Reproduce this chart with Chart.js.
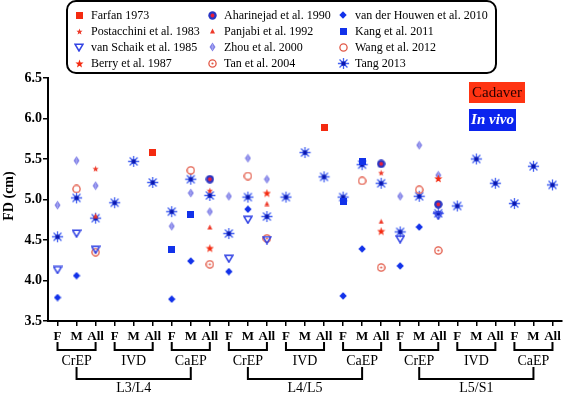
<!DOCTYPE html>
<html><head><meta charset="utf-8">
<script src="https://cdn.jsdelivr.net/npm/chart.js@4"></script>
<style>html,body{margin:0;padding:0;background:#fff;}#wrap{width:567px;height:395px;position:relative;}</style>
</head><body><div id="wrap"><canvas id="c" width="567" height="395"></canvas></div>
<script>
const _ = null;
// ---- categories / tick labels ----
const sexLabels = ['F', 'M', 'All'];
const regionLabels = ['CrEP', 'IVD', 'CaEP'];
const levelLabels = ['L3/L4', 'L4/L5', 'L5/S1'];
const categories = [];
levelLabels.forEach(() => regionLabels.forEach(() => sexLabels.forEach(s => categories.push(s))));
const yTicks = [3.5, 4.0, 4.5, 5.0, 5.5, 6.0, 6.5];

// ---- series values (FD, cm), one entry per category, null = no data ----
//                 |------------- L3/L4 -------------|  |------------- L4/L5 -------------|  |------------- L5/S1 -------------|
const farfan      = [_,_,_,    _,_,5.58, _,_,_,          _,_,_,    _,_,5.89, _,_,_,          _,_,_,    _,_,_,    _,_,_];
const postacchini = [_,_,5.38, _,_,_,    _,_,5.11,       _,_,_,    _,_,_,    _,_,5.33,       _,_,_,    _,_,_,    _,_,_];
const vanSchaik   = [4.13,4.58,4.38, _,_,_, _,_,_,        4.27,4.75,4.50, _,_,_, _,_,_,       4.51,_,4.80, _,_,_, _,_,_];
const berry       = [_,_,_,    _,_,_,    _,_,4.40,       _,_,5.08, _,_,_,    _,_,4.61,       _,_,5.26, _,_,_,    _,_,_];
const aharinejad  = [_,_,_,    _,_,_,    _,_,5.25,       _,_,_,    _,_,_,    _,_,5.44,       _,_,4.94, _,_,_,    _,_,_];
const panjabi     = [_,_,4.80, _,_,_,    _,_,4.66,       _,_,4.95, _,_,_,    _,_,4.73,       _,_,4.95, _,_,_,    _,_,_];
const zhou        = [4.93,5.48,5.17, _,_,_, 4.67,5.08,4.85, 5.04,5.51,5.25, _,_,_, _,_,_,   5.04,5.67,5.30, _,_,_, _,_,_];
const tan         = [_,_,4.35, _,_,_,    _,_,4.20,       _,_,4.52, _,_,_,    _,_,4.16,       _,_,4.37, _,_,_,    _,_,_];
const vanDerHouwen= [3.79,4.06,_, _,_,_, 3.77,4.24,_,     4.11,4.88,_, _,_,_, 3.81,4.39,_,   4.18,4.66,_, _,_,_, _,_,_];
const kang        = [_,_,_,    _,_,_,    4.38,4.81,_,    _,_,_,    _,_,_,    4.98,5.47,_,    _,_,_,    _,_,_,    _,_,_];
const wang        = [_,5.13,_, _,_,_,    _,5.36,_,       _,5.29,_, _,_,_,    _,5.23,_,       _,5.12,_, _,_,_,    _,_,_];
const tang        = [4.54,5.02,4.77, 4.96,5.47,5.21, 4.85,5.25,5.05,
                     4.58,5.03,4.79, 5.03,5.58,5.28, 5.03,5.43,5.20,
                     4.60,5.04,4.83, 4.92,5.50,5.20, 4.95,5.41,5.18];

// ---- marker drawing (styles) ----
const FONT = '"Liberation Serif","Times New Roman",Times,serif';
function mk(w, h, draw) { const c = document.createElement('canvas'); c.width = w; c.height = h; const g = c.getContext('2d'); draw(g, w / 2, h / 2); return c; }
function star(g, cx, cy, ro, ri) { g.beginPath(); for (let k = 0; k < 10; k++) { const r = k % 2 ? ri : ro; const a = -Math.PI / 2 + k * Math.PI / 5; g.lineTo(cx + r * Math.cos(a), cy + r * Math.sin(a)); } g.closePath(); g.fill(); }
const RED = '#f42a10', SALMON = '#e25846', BLUE = '#1232ea';
const M = {
  farfan: mk(7, 7, g => { g.fillStyle = RED; g.fillRect(0, 0, 7, 7); }),
  postacchini: mk(7, 7, (g, cx, cy) => { g.fillStyle = '#ee3a2a'; star(g, cx, cy + 0.3, 3.2, 1.4); }),
  vanSchaik: mk(10, 9, (g, cx, cy) => { g.strokeStyle = '#3344e4'; g.lineWidth = 1.5; g.beginPath(); g.moveTo(1, 1.2); g.lineTo(9, 1.2); g.lineTo(5, 8); g.closePath(); g.stroke(); }),
  berry: mk(9, 9, (g, cx, cy) => { g.fillStyle = RED; star(g, cx, cy + 0.4, 4.3, 1.8); }),
  aharinejad: mk(9, 9, (g, cx, cy) => { g.fillStyle = '#2a36c4'; g.beginPath(); g.arc(cx, cy, 4.2, 0, 7); g.fill(); g.fillStyle = '#e8203a'; g.beginPath(); g.arc(cx, cy, 1.9, 0, 7); g.fill(); }),
  panjabi: mk(7, 6, (g, cx, cy) => { g.fillStyle = '#ee3a2a'; g.beginPath(); g.moveTo(cx, 0.5); g.lineTo(6, 5.5); g.lineTo(1, 5.5); g.closePath(); g.fill(); }),
  zhou: mk(7, 10, (g, cx, cy) => { g.fillStyle = '#8080e6'; g.beginPath(); g.moveTo(cx, 0.5); g.lineTo(6.5, cy); g.lineTo(cx, 9.5); g.lineTo(0.5, cy); g.closePath(); g.fill(); g.strokeStyle = '#a8a8f2'; g.lineWidth = 0.8; g.beginPath(); g.moveTo(cx, 2); g.lineTo(cx, 8); g.moveTo(2, cy); g.lineTo(5, cy); g.stroke(); }),
  tan: mk(9, 9, (g, cx, cy) => { g.strokeStyle = SALMON; g.lineWidth = 1.3; g.beginPath(); g.arc(cx, cy, 3.6, 0, 7); g.stroke(); g.fillStyle = SALMON; g.beginPath(); g.arc(cx, cy, 1.1, 0, 7); g.fill(); }),
  vanDerHouwen: mk(8, 8, (g, cx, cy) => { g.fillStyle = BLUE; g.beginPath(); g.moveTo(cx, 0.3); g.lineTo(7.7, cy); g.lineTo(cx, 7.7); g.lineTo(0.3, cy); g.closePath(); g.fill(); }),
  kang: mk(7, 7, g => { g.fillStyle = BLUE; g.fillRect(0, 0, 7, 7); }),
  wang: mk(9, 9, (g, cx, cy) => { g.strokeStyle = SALMON; g.lineWidth = 1.3; g.beginPath(); g.arc(cx, cy, 3.6, 0, 7); g.stroke(); }),
  tang: mk(13, 13, (g, cx, cy) => { g.strokeStyle = '#4462f2'; g.lineWidth = 1.3; g.beginPath(); for (let k = 0; k < 8; k++) { const a = k * Math.PI / 4; g.moveTo(cx, cy); g.lineTo(cx + 5.6 * Math.cos(a), cy + 5.6 * Math.sin(a)); } g.stroke(); g.fillStyle = '#0a18b0'; g.fillRect(cx - 2, cy - 2, 4, 4); })
};

const series = [
  { label: 'Farfan 1973', data: farfan, m: M.farfan },
  { label: 'Postacchini et al. 1983', data: postacchini, m: M.postacchini },
  { label: 'van Schaik et al. 1985', data: vanSchaik, m: M.vanSchaik },
  { label: 'Berry et al. 1987', data: berry, m: M.berry },
  { label: 'Aharinejad et al. 1990', data: aharinejad, m: M.aharinejad },
  { label: 'Panjabi et al. 1992', data: panjabi, m: M.panjabi },
  { label: 'Zhou et al. 2000', data: zhou, m: M.zhou },
  { label: 'Tan et al. 2004', data: tan, m: M.tan },
  { label: 'van der Houwen et al. 2010', data: vanDerHouwen, m: M.vanDerHouwen },
  { label: 'Kang et al. 2011', data: kang, m: M.kang },
  { label: 'Wang et al. 2012', data: wang, m: M.wang },
  { label: 'Tang 2013', data: tang, m: M.tang }
];

const decor = {
  id: 'decor',
  afterDraw(chart) {
    const ctx = chart.ctx, xs = chart.scales.x;
    ctx.save();
    ctx.fillStyle = '#000'; ctx.strokeStyle = '#000';
    // y title
    ctx.save();
    ctx.translate(9, 196); ctx.rotate(-Math.PI / 2);
    ctx.font = 'bold 14px ' + FONT; ctx.textAlign = 'center'; ctx.textBaseline = 'middle';
    ctx.fillText('FD (cm)', 0, 0);
    ctx.restore();
    // brackets
    ctx.lineWidth = 2; ctx.lineCap = 'butt';
    ctx.textAlign = 'center'; ctx.textBaseline = 'middle';
    levelLabels.forEach((lv, L) => {
      regionLabels.forEach((rg, R) => {
        const i0 = L * 9 + R * 3;
        const a = xs.getPixelForValue(i0), b = xs.getPixelForValue(i0 + 2);
        ctx.beginPath(); ctx.moveTo(a, 342); ctx.lineTo(a, 350); ctx.lineTo(b, 350); ctx.lineTo(b, 342); ctx.stroke();
        ctx.font = '14px ' + FONT; ctx.fillText(rg, (a + b) / 2, 361);
      });
      const a = xs.getPixelForValue(L * 9 + 1), b = xs.getPixelForValue(L * 9 + 7);
      ctx.beginPath(); ctx.moveTo(a, 367); ctx.lineTo(a, 379); ctx.lineTo(b, 379); ctx.lineTo(b, 367); ctx.stroke();
      ctx.font = '14px ' + FONT; ctx.fillText(lv, (a + b) / 2, 388);
    });
    // legend box
    ctx.lineWidth = 2;
    ctx.beginPath(); ctx.roundRect(67, 1, 429, 72, 9); ctx.stroke();
    const colX = [79, 212, 343], txtX = [91, 224, 355], rowY = [15, 31, 47, 63];
    ctx.font = '12px ' + FONT; ctx.textAlign = 'left'; ctx.textBaseline = 'middle';
    series.forEach((s, i) => {
      const c = Math.floor(i / 4), r = i % 4;
      ctx.drawImage(s.m, Math.round(colX[c] - s.m.width / 2), Math.round(rowY[r] - s.m.height / 2));
      ctx.fillStyle = '#000'; ctx.fillText(s.label, txtX[c], rowY[r] + 1);
    });
    // Cadaver / In vivo boxes
    ctx.fillStyle = '#ff3412'; ctx.fillRect(469, 82, 56, 21);
    ctx.fillStyle = '#2a0000'; ctx.font = '15px ' + FONT; ctx.textAlign = 'center';
    ctx.fillText('Cadaver', 497, 93);
    ctx.fillStyle = '#0b24ee'; ctx.fillRect(469, 109, 47, 22);
    ctx.fillStyle = '#fff'; ctx.font = 'italic bold 15px ' + FONT;
    ctx.fillText('In vivo', 492.5, 120.5);
    ctx.restore();
  }
};

new Chart(document.getElementById('c'), {
  type: 'line',
  data: {
    labels: categories,
    datasets: series.map(s => ({
      label: s.label, data: s.data, showLine: false,
      pointStyle: s.m, pointRadius: 4, pointHoverRadius: 4,
      borderColor: 'transparent', backgroundColor: 'transparent'
    }))
  },
  options: {
    responsive: false, animation: false, devicePixelRatio: 1,
    layout: { padding: { left: 0, right: 2, top: 78, bottom: 0 } },
    plugins: { legend: { display: false }, tooltip: { enabled: false } },
    scales: {
      x: {
        type: 'category', offset: true,
        grid: { display: true, drawOnChartArea: false, drawTicks: true, tickLength: 5, color: '#000', lineWidth: 1.5 },
        border: { display: true, color: '#000', width: 2 },
        ticks: { font: { family: FONT, size: 13, weight: 'bold' }, color: '#000', padding: 3, maxRotation: 0, autoSkip: false },
        afterFit(s) { s.height = 74; }
      },
      y: {
        min: 3.5, max: 6.5,
        afterBuildTicks(s) { s.ticks = yTicks.map(v => ({ value: v })); },
        grid: { display: true, drawOnChartArea: false, drawTicks: true, tickLength: 5, color: '#000', lineWidth: 1.5 },
        border: { display: true, color: '#000', width: 2 },
        ticks: { font: { family: FONT, size: 14, weight: 'bold' }, color: '#000', padding: 1, callback: v => Number(v).toFixed(1) },
        afterFit(s) { s.width = 48; }
      }
    }
  },
  plugins: [decor]
});
</script></body></html>
